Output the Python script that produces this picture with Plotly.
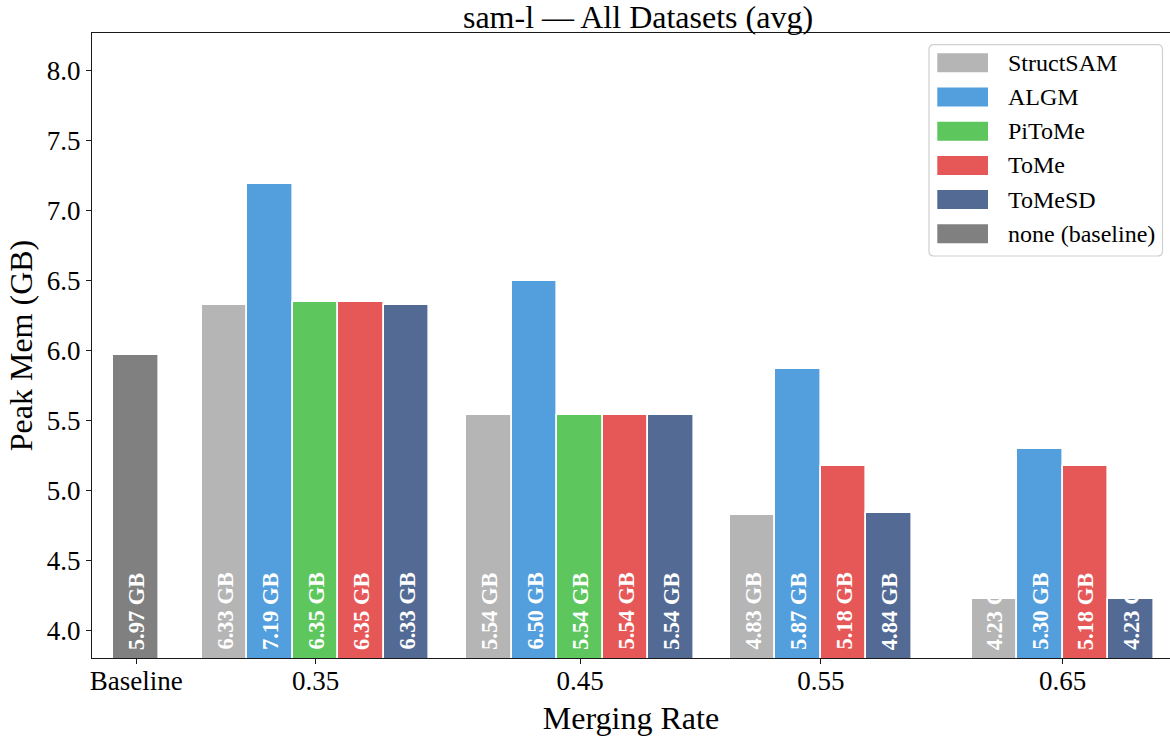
import plotly.graph_objects as go

# ---- data -------------------------------------------------------------
CATEGORIES = ["Baseline", "0.35", "0.45", "0.55", "0.65"]
METHODS = ["StructSAM", "ALGM", "PiToMe", "ToMe", "ToMeSD"]
BASELINE_NAME = "none (baseline)"
BASELINE_MEM = 5.97
STRUCTSAM = [6.33, 5.54, 4.83, 4.23]
ALGM = [7.19, 6.50, 5.87, 5.30]
PITOME = [6.35, 5.54, None, None]
TOME = [6.35, 5.54, 5.18, 5.18]
TOMESD = [6.33, 5.54, 4.84, 4.23]
Y_TICKS = [4.0, 4.5, 5.0, 5.5, 6.0, 6.5, 7.0, 7.5, 8.0]

# ---- style / layout constants -----------------------------------------
SERIES = dict(zip(METHODS, [STRUCTSAM, ALGM, PITOME, TOME, TOMESD]))
COLORS = {
    "StructSAM": "#b5b5b5",
    "ALGM": "#539fdd",
    "PiToMe": "#5dc65d",
    "ToMe": "#e65858",
    "ToMeSD": "#526a94",
    BASELINE_NAME: "#808080",
}
GROUP_X = [0.0, 3.94, 9.75, 15.04, 20.35]   # centre of each category group
X_RANGE = [-0.971, 22.71]
Y_RANGE = [3.807, 8.268]
FONT = "Liberation Serif"
INK = "#1a1a1a"

W, H = 1170, 736
ML, MR, MT, MB = 92, 0, 33, 78
PW, PH = W - ML - MR, H - MT - MB

# bar positions: methods present in a group sit side by side around its centre
positions = {m: ([], []) for m in METHODS}
for gi, cat in enumerate(CATEGORIES[1:]):
    present = [m for m in METHODS if SERIES[m][gi] is not None]
    n = len(present)
    for k, m in enumerate(present):
        positions[m][0].append(GROUP_X[gi + 1] + (k - (n - 1) / 2))
        positions[m][1].append(SERIES[m][gi])

fig = go.Figure()

fig.add_trace(go.Bar(
    x=[GROUP_X[0]], y=[BASELINE_MEM], width=1.0, name=BASELINE_NAME,
    marker=dict(color=COLORS[BASELINE_NAME], line=dict(color="white", width=1.6)),
    showlegend=False,
))
for m in METHODS:
    xs, ys = positions[m]
    fig.add_trace(go.Bar(
        x=xs, y=ys, width=1.0, name=m,
        marker=dict(color=COLORS[m], line=dict(color="white", width=1.6)),
        showlegend=False,
    ))

# vertical value labels at the foot of each bar
annotations = []
label_items = [(GROUP_X[0], BASELINE_MEM)]
for m in METHODS:
    label_items += list(zip(*positions[m]))
for x, v in label_items:
    annotations.append(dict(
        x=x, y=Y_RANGE[0], xref="x", yref="y",
        text=f"{v:.2f} GB", textangle=-90, showarrow=False,
        xanchor="center", yanchor="bottom", yshift=6,
        font=dict(family=FONT, size=22.5, color="white", weight="bold"),
    ))

# legend drawn as a framed box with colour swatches
def px_x(p):
    return (p - ML) / PW


def px_y(p):
    return (H - MB - p) / PH


shapes = []
lx0, lx1, ly0, ly1, r = 929, 1162.5, 44.7, 256, 5
path = (
    f"M {px_x(lx0 + r)} {px_y(ly0)} L {px_x(lx1 - r)} {px_y(ly0)} "
    f"Q {px_x(lx1)} {px_y(ly0)} {px_x(lx1)} {px_y(ly0 + r)} "
    f"L {px_x(lx1)} {px_y(ly1 - r)} "
    f"Q {px_x(lx1)} {px_y(ly1)} {px_x(lx1 - r)} {px_y(ly1)} "
    f"L {px_x(lx0 + r)} {px_y(ly1)} "
    f"Q {px_x(lx0)} {px_y(ly1)} {px_x(lx0)} {px_y(ly1 - r)} "
    f"L {px_x(lx0)} {px_y(ly0 + r)} "
    f"Q {px_x(lx0)} {px_y(ly0)} {px_x(lx0 + r)} {px_y(ly0)} Z"
)
shapes.append(dict(type="path", path=path, xref="paper", yref="paper",
                   fillcolor="rgba(255,255,255,0.85)",
                   line=dict(color="#d0d0d0", width=1.2), layer="above"))

legend_names = METHODS + [BASELINE_NAME]
row0, pitch = 62.8, 34.2
for i, name in enumerate(legend_names):
    cy = row0 + i * pitch
    shapes.append(dict(
        type="rect", xref="paper", yref="paper",
        x0=px_x(937.3), x1=px_x(988), y0=px_y(cy - 9.5), y1=px_y(cy + 9.5),
        fillcolor=COLORS[name], line=dict(width=0), layer="above",
    ))
    annotations.append(dict(
        x=px_x(1006), y=px_y(cy), xref="paper", yref="paper",
        text=name, showarrow=False, xanchor="left", yanchor="middle",
        font=dict(family=FONT, size=24, color="black"),
    ))

fig.update_layout(
    width=W, height=H,
    margin=dict(l=ML, r=MR, t=MT, b=MB, autoexpand=False),
    paper_bgcolor="white", plot_bgcolor="white",
    barmode="overlay", bargap=0,
    font=dict(family=FONT, color="black"),
    title=dict(
        text="sam-l — All Datasets (avg)",
        x=638 / W, xref="container", xanchor="center",
        y=1 - 17 / H, yref="container", yanchor="middle",
        font=dict(family=FONT, size=32, color="black"),
    ),
    xaxis=dict(
        range=X_RANGE, tickvals=GROUP_X, ticktext=CATEGORIES,
        ticks="outside", ticklen=5, tickwidth=1.3, tickcolor=INK,
        showline=True, linecolor=INK, linewidth=1.3, mirror=True,
        showgrid=False, zeroline=False, ticklabelstandoff=-7,
        tickfont=dict(family=FONT, size=27, color="black"),
        title=dict(text="Merging Rate", standoff=12,
                   font=dict(family=FONT, size=32, color="black")),
    ),
    yaxis=dict(
        range=Y_RANGE, tickvals=Y_TICKS, ticktext=[f"{t:.1f}" for t in Y_TICKS],
        ticks="outside", ticklen=5, tickwidth=1.3, tickcolor=INK,
        showline=True, linecolor=INK, linewidth=1.3, mirror=False,
        showgrid=False, zeroline=False,
        tickfont=dict(family=FONT, size=27, color="black"),
        title=dict(text="Peak Mem (GB)", standoff=4,
                   font=dict(family=FONT, size=32, color="black")),
    ),
    annotations=annotations,
    shapes=shapes,
)

fig.write_html("out.html")
